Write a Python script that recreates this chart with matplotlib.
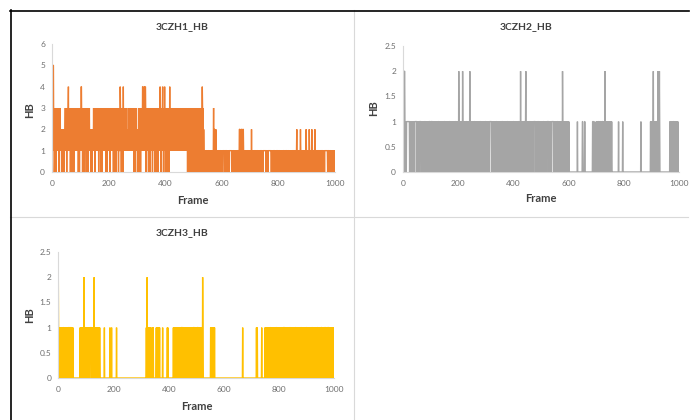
import matplotlib
matplotlib.use("Agg")
import matplotlib.pyplot as plt
from matplotlib.lines import Line2D
import numpy as np

plt.rcParams['font.family'] = ['Lato', 'DejaVu Sans']

# ---- data: HB count per frame (groups of 10 frames, rows of 100 frames) ----
hb1_rows = [
    "2305552130 1312031213 2131302123 1212021201 2120212313 1302131341 3121302131 2031213021 3121312131 2130213021",
    "3124421302 1313021312 3021312031 2131212012 1202121313 1302131213 2131302121 3120313021 2131213121 3021302131",
    "2131202131 3121312031 2031213021 3121303121 1431203121 3041312121 3121312121 2131213121 3121213121 0213021312",
    "1201213021 3130213121 4413124431 4302131213 2031213021 3121302131 2130213021 3121302131 2141302131 3413021241",
    "3021312031 2130214121 3121312131 2131213121 3121213121 2131312121 3121312131 2131213120 2130213021 3021302131",
    "2030213021 3120302131 2031302130 3431302101 1010101101 0101101010 1011010101 1302220212 1010101101 0101011010",
    "1010111111 0101111110 1010101111 1111101010 1011010101 0101011111 1022212022 2120222101 0101101010 1011010101",
    "0101020101 1010111010 1101011101 0101010111 1010101111 1111110101 1010111111 1111101010 1011111101 0101111110",
    "1011010101 0101010111 1010101111 1010110101 0101010101 1011010110 1010120101 0101010121 0101101010 1010101021",
    "0101010102 1010101020 1010101012 0101011101 0111010101 1011111010 1010111111 1111011111 0101101010 1010101010",
    "0",
]
hb2_rows = [
    "1010122101 0101111111 1111010101 0101010101 0101111111 1010101010 1111110101 0101010101 1010101010 1010111110",
    "1011111010 1010101010 0101010101 1010101010 0101010101 1010101010 0101010101 1010101010 0101010101 1010101010",
    "1021111010 1010102101 0101010101 1010101010 1020101010 0101010101 1010101010 0101010101 1010101010 0101010101",
    "1010101010 1010111111 1010101010 0101010101 1010101010 0101010101 1010101010 0101010101 1010101010 0101010101",
    "1010101010 0101010101 1010102010 0101010101 1010120101 0101010101 1010101010 1010111111 0101010101 1010101010",
    "0101010101 1010101010 1011111110 0101010101 1111110101 0101010101 1010101010 1010101021 0101010101 0101010101",
    "0100000000 0000000000 0000000000 0010000000 0000000000 1100000011 0000000000 0000000000 0000000111 1000010000",
    "0010100101 1010110101 0111101010 1020101010 1010101010 1010101000 0000000000 0000000000 0100000000 0000001000",
    "0000000000 0000000000 0000000000 0000000000 0000000000 0000000000 0010000000 0000000000 0000000000 0000000100",
    "1010101201 0101010101 1010201012 1000000000 0000000000 0000000000 0000000101 0101010101 1010101010 1010101000",
    "0",
]
hb3_rows = [
    "2101010101 0101010101 1010101010 0101010111 1010111101 0101000000 0000000000 0000000001 0101010101 0102010101",
    "1010101010 0101011111 1010101010 2010101010 1010101010 1000000000 0000000100 0000000000 0000000100 0001000000",
    "0000000000 0100000000 0000000000 0000000000 0000000000 0000000000 0000000000 0000000000 0000000000 0000000000",
    "0000000000 0000000001 0120101010 1010101000 0010100000 0000010101 0101010100 0000000010 0000000000 0000010100",
    "0000000000 0000000101 0101010101 0101010101 0101011110 1110101010 1010101010 0101010101 0101010101 1111010101",
    "0101111101 0101010101 0102100000 0000000000 0000000000 0010101010 1010101000 0000000000 0000000000 0000000000",
    "0000000000 0000000000 0000000000 0000000000 0000000000 0000000000 0000000010 0000000000 0000000000 0000000000",
    "0000000000 0000000010 0100000000 0000000100 0000000001 0101010101 0101010101 1010101010 0101010101 1010101010",
    "0101010101 0101011111 1010101010 0101010101 1010101010 0101010101 1010101010 0101010101 1010101010 0101010101",
    "1010101010 0101010101 1010101010 0101010101 1010101010 1011110101 0101011110 1010101111 1010101010 1010101010",
    "0",
]
titles = ["3CZH1_HB", "3CZH2_HB", "3CZH3_HB"]
colors = ["#ED7D31", "#A5A5A5", "#FFC000"]
ymaxes = [6, 2.5, 2.5]
ysteps = [1, 0.5, 0.5]
xticks = [0, 200, 400, 600, 800, 1000]


def parse(rows):
    s = "".join(rows).replace(" ", "")
    return np.array([int(c) for c in s])


series = [parse(hb1_rows), parse(hb2_rows), parse(hb3_rows)]

W, H = 690, 420
fig = plt.figure(figsize=(6.9, 4.2), dpi=100)
fig.patch.set_facecolor("white")


def fx(x):
    return x / W


def fy(y):
    return 1 - y / H


# panel geometry in pixels: plot-area left, right, bottom(y0), top(ymax)
plots = [
    (52, 335, 172, 44),
    (403, 679, 172, 46),
    (58.3, 334.3, 378, 252),
]
title_pos = [(182, 27), (526, 27), (182, 233)]
frame_pos = [(193, 200), (541, 199), (197, 406)]
hb_pos = [(30, 110), (374, 108), (30, 315)]

txt_dark = "#404040"
tick_col = "#707070"

for i in range(3):
    l, r, b, t = plots[i]
    ax = fig.add_axes([fx(l), fy(b), (r - l) / W, (b - t) / H])
    y = series[i]
    x = np.arange(len(y))
    ax.plot(x, y, color=colors[i], lw=1.0, solid_joinstyle="miter", zorder=3)
    ax.set_xlim(0, 1000)
    ax.set_ylim(0, ymaxes[i])
    ax.set_xticks(xticks)
    ax.set_yticks(np.arange(0, ymaxes[i] + 0.001, ysteps[i]))
    if ysteps[i] == 1:
        ax.set_yticklabels([str(int(v)) for v in ax.get_yticks()])
    else:
        ax.set_yticklabels([("%g" % v) for v in ax.get_yticks()])
    for sp in ["top", "right"]:
        ax.spines[sp].set_visible(False)
    for sp in ["left", "bottom"]:
        ax.spines[sp].set_color("#D9D9D9")
        ax.spines[sp].set_linewidth(0.8)
    ax.spines["left"].set_zorder(4)
    ax.tick_params(length=0, labelsize=6, labelcolor=tick_col)
    ax.tick_params(axis="x", pad=6)
    ax.tick_params(axis="y", pad=5)
    ax.patch.set_alpha(0)
    tx, ty = title_pos[i]
    fig.text(fx(tx), fy(ty), titles[i], ha="center", va="center",
             fontsize=7.5, fontweight="bold", color=txt_dark)
    fxp, fyp = frame_pos[i]
    fig.text(fx(fxp), fy(fyp), "Frame", ha="center", va="center",
             fontsize=8, fontweight="bold", color=txt_dark)
    hx, hy = hb_pos[i]
    fig.text(fx(hx), fy(hy), "HB", ha="center", va="center", rotation=90,
             fontsize=8, fontweight="bold", color=txt_dark)

# panel separators (light) and outer black border (top, left)
light = "#D9D9D9"
fig.add_artist(Line2D([fx(354), fx(354)], [fy(10), fy(420)], color=light, lw=0.8))
fig.add_artist(Line2D([fx(10), fx(688)], [fy(217), fy(217)], color=light, lw=0.8))
fig.add_artist(Line2D([fx(10), fx(689)], [fy(10.5), fy(10.5)], color="black", lw=1.2))
fig.add_artist(Line2D([fx(10.5), fx(10.5)], [fy(10), fy(420)], color="black", lw=1.2))

fig.savefig("out.png", dpi=100)
